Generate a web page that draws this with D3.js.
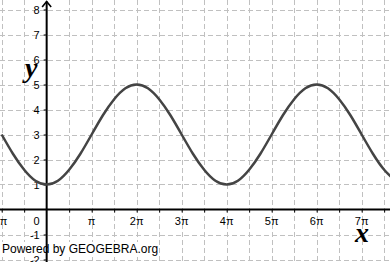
<!DOCTYPE html>
<html>
<head>
<meta charset="utf-8">
<script src="https://cdn.jsdelivr.net/npm/d3@7"></script>
<style>
  body { margin: 0; background: #fff; }
  svg { display: block; }
</style>
</head>
<body>
<div id="chart"></div>
<script>
const curveX = [-1, -0.75, -0.5, -0.25, 0, 0.25, 0.5, 0.75, 1, 1.25, 1.5, 1.75, 2,
  2.25, 2.5, 2.75, 3, 3.25, 3.5, 3.75, 4, 4.25, 4.5, 4.75, 5, 5.25, 5.5, 5.75, 6,
  6.25, 6.5, 6.75, 7, 7.25, 7.5, 7.75];
const curveY = [3.0, 2.23, 1.59, 1.15, 1.0, 1.15, 1.59, 2.23, 3.0, 3.77, 4.41, 4.85, 5.0,
  4.85, 4.41, 3.77, 3.0, 2.23, 1.59, 1.15, 1.0, 1.15, 1.59, 2.23, 3.0, 3.77, 4.41, 4.85, 5.0,
  4.85, 4.41, 3.77, 3.0, 2.23, 1.59, 1.15];

const xTicks = [-1, 1, 2, 3, 4, 5, 6, 7];
const xTickLabels = ["-π", "π", "2π", "3π", "4π", "5π", "6π", "7π"];
const xGrid = [-1, -0.5, 0.5, 1, 1.5, 2, 2.5, 3, 3.5, 4, 4.5, 5, 5.5, 6, 6.5, 7, 7.5];
const yTicks = [-2, -1, 1, 2, 3, 4, 5, 6, 7, 8];

function draw(container) {
  const width = 390;
  const height = 262;

  const x = d3.scaleLinear().domain([-1.037, 7.63]).range([0, width]);
  const y = d3.scaleLinear().domain([-2.1, 8.38]).range([height, 0]);

  const svg = d3.select(container).append("svg")
    .attr("width", width)
    .attr("height", height)
    .style("font-family", "'Liberation Sans', Arial, sans-serif");

  svg.append("rect").attr("width", width).attr("height", height).attr("fill", "#fff");

  /* **************************************
   * Dashed grid
   **************************************** */
  const grid = svg.append("g")
    .attr("stroke", "#c0c0c0")
    .attr("stroke-width", 1)
    .attr("stroke-dasharray", "5,3");

  grid.selectAll("line.v")
    .data(xGrid)
    .join("line")
      .attr("x1", d => Math.round(x(d)) + 0.5)
      .attr("x2", d => Math.round(x(d)) + 0.5)
      .attr("y1", 0)
      .attr("y2", height);

  grid.selectAll("line.h")
    .data(yTicks)
    .join("line")
      .attr("y1", d => Math.round(y(d)) + 0.5)
      .attr("y2", d => Math.round(y(d)) + 0.5)
      .attr("x1", 0)
      .attr("x2", width);

  // white box behind the credit line
  svg.append("rect")
    .attr("x", 0).attr("y", 242)
    .attr("width", 158).attr("height", 15)
    .attr("fill", "#fff");

  /* **************************************
   * Axes
   **************************************** */
  const xAxis = g => g
      .attr("transform", `translate(0,${y(0)})`)
      .call(d3.axisBottom(x)
          .tickValues(xGrid)
          .tickFormat("")
          .tickSize(3))
      .call(g => g.select(".domain").remove())
      .call(g => g.selectAll(".tick line").attr("stroke", "#000").attr("stroke-width", 1));

  const yAxis = g => g
      .attr("transform", `translate(${x(0)},0)`)
      .call(d3.axisLeft(y)
          .tickValues(yTicks)
          .tickFormat("")
          .tickSize(3))
      .call(g => g.select(".domain").remove())
      .call(g => g.selectAll(".tick line").attr("stroke", "#000").attr("stroke-width", 1));

  svg.append("g").call(xAxis);
  svg.append("g").call(yAxis);

  svg.append("line")
    .attr("x1", 0).attr("x2", width)
    .attr("y1", y(0)).attr("y2", y(0))
    .attr("stroke", "#000").attr("stroke-width", 2);

  svg.append("line")
    .attr("x1", x(0)).attr("x2", x(0))
    .attr("y1", 1.5).attr("y2", height)
    .attr("stroke", "#000").attr("stroke-width", 2);

  // arrow on the y axis
  svg.append("path")
    .attr("d", `M${x(0) - 4.5},7 L${x(0)},1.5 L${x(0) + 4.5},7`)
    .attr("fill", "none")
    .attr("stroke", "#000")
    .attr("stroke-width", 1.6);

  /* **************************************
   * Tick labels
   **************************************** */
  svg.append("g")
    .selectAll("text")
    .data(xTicks)
    .join("text")
      .attr("x", d => x(d))
      .attr("y", y(0) + 15)
      .attr("text-anchor", "middle")
      .attr("font-size", 11)
      .text((d, i) => xTickLabels[i]);

  svg.append("g")
    .selectAll("text")
    .data(yTicks)
    .join("text")
      .attr("x", x(0) - 7)
      .attr("y", d => y(d) + 4)
      .attr("text-anchor", "end")
      .attr("font-size", 11)
      .text(d => d);

  svg.append("text")
    .attr("x", x(0) - 7)
    .attr("y", y(0) + 15)
    .attr("text-anchor", "end")
    .attr("font-size", 11)
    .text("0");

  /* **************************************
   * The curve
   **************************************** */
  const line = d3.line()
    .x(d => x(d[0]))
    .y(d => y(d[1]))
    .curve(d3.curveNatural);

  svg.append("path")
    .datum(curveX.map((d, i) => [d, curveY[i]]))
    .attr("d", line)
    .attr("fill", "none")
    .attr("stroke", "#444")
    .attr("stroke-width", 2.5);

  /* **************************************
   * Axis names and credit
   **************************************** */
  svg.append("text")
    .attr("x", 25)
    .attr("y", 77)
    .attr("font-family", "'Liberation Serif', 'Times New Roman', serif")
    .attr("font-style", "italic")
    .attr("font-weight", "bold")
    .attr("font-size", 28)
    .text("y");

  svg.append("text")
    .attr("x", 355)
    .attr("y", 242)
    .attr("font-family", "'Liberation Serif', 'Times New Roman', serif")
    .attr("font-style", "italic")
    .attr("font-weight", "bold")
    .attr("font-size", 28)
    .text("x");

  svg.append("text")
    .attr("x", 2)
    .attr("y", 253)
    .attr("font-size", 12)
    .attr("fill", "#000")
    .text("Powered by GEOGEBRA.org");

  return svg.node();
}

draw("#chart");
</script>
</body>
</html>
